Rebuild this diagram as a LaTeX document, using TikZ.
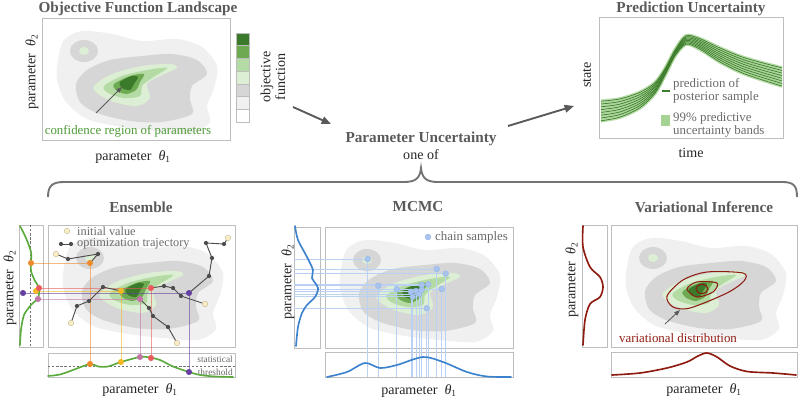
\documentclass[tikz,border=0pt]{standalone}
\usepackage{fontspec}
\setmainfont{Liberation Serif}
\usetikzlibrary{arrows.meta}

\definecolor{txtgray}{HTML}{5A5A5A}
\definecolor{legendgray}{HTML}{6A6A6A}
\definecolor{boxgray}{HTML}{BDBDBD}
\definecolor{lsA}{HTML}{F0F0F0}
\definecolor{lsB}{HTML}{D6D6D6}
\definecolor{lsC}{HTML}{DCEFD4}
\definecolor{lsD}{HTML}{B4DBA4}
\definecolor{lsE}{HTML}{6DAA52}
\definecolor{lsF}{HTML}{3B7A2A}
\definecolor{margreen}{HTML}{5BAA3C}
\definecolor{mcblue}{HTML}{3C82CC}
\definecolor{mcdot}{HTML}{A9C3EF}
\definecolor{mclinecol}{HTML}{BBD1F3}
\definecolor{vired}{HTML}{8E1B10}
\definecolor{confgreen}{HTML}{4E9A36}
\definecolor{cream}{HTML}{FAEDC4}
\definecolor{trajgray}{HTML}{4D4D4D}
\definecolor{cOrange}{HTML}{EC8A2C}
\definecolor{cYellow}{HTML}{F4B823}
\definecolor{cRed}{HTML}{E85A5C}
\definecolor{cPink}{HTML}{C274A6}
\definecolor{cPurple}{HTML}{6540A0}
\definecolor{bandgreen}{HTML}{A6D394}
\definecolor{linegreen}{HTML}{3E7E2E}

\newcommand\parlbl[1]{parameter\ \ {\itshape θ}\textsubscript{#1}}

% objective landscape, local frame of one 188x122 panel
\newcommand\objland{%
  \fill[lsA] plot[smooth cycle] coordinates {(16,42) (22,22) (40,13) (70,16) (100,23) (135,21) (160,29) (175,48) (172,70) (165,88) (168,104) (150,115) (115,113) (80,109) (45,101) (24,84) (15,62)};
  \fill[lsB] (42,33) ellipse[x radius=14, y radius=11];
  \fill[lsC] (42,33) ellipse[x radius=5, y radius=4];
  \fill[lsB] plot[smooth cycle] coordinates {(34,66) (45,52) (68,42) (100,38) (130,36) (155,42) (165,56) (150,68) (148,82) (150,96) (120,104) (88,103) (55,95) (38,84)};
  \fill[lsC] plot[smooth cycle] coordinates {(52,68) (70,56) (100,48) (128,46) (135,50) (118,58) (105,66) (108,80) (95,88) (72,84) (56,76)};
  \fill[lsD] plot[smooth cycle] coordinates {(62,68) (80,58) (105,52) (125,50) (110,60) (100,68) (98,78) (82,80) (66,75)};
  \fill[lsE] plot[smooth cycle] coordinates {(72,66) (88,58) (102,56) (98,64) (94,72) (84,76) (74,72)};
  \fill[lsF] plot[smooth cycle] coordinates {(78,64) (90,58) (96,59) (92,66) (88,72) (80,70)};
}

\tikzset{
  panelbox/.style={draw=boxgray, line width=0.6pt},
  ttl/.style={font=\fontsize{13}{15}\selectfont\bfseries, text=txtgray, inner sep=0pt},
  axlbl/.style={font=\fontsize{12}{14}\selectfont, text=black!85, inner sep=0pt},
  legtxt/.style={font=\fontsize{11}{11}\selectfont, text=legendgray, anchor=west, inner sep=0pt},
  bigarrow/.style={draw=black!65, line width=1.6pt, -{Triangle[length=8pt,width=6.5pt]}},
  thinarrow/.style={draw=black!65, line width=0.7pt, -{Triangle[length=5pt,width=3.6pt]}},
  bracestyle/.style={draw=black!55, line width=1.6pt},
  trajline/.style={draw=trajgray, line width=0.8pt},
  startdot/.style={fill=cream, draw=cream!75!black, line width=0.3pt},
  margcurve/.style={line width=1.4pt, line cap=round},
  projline/.style={line width=0.5pt, opacity=0.6},
  mcline/.style={draw=mclinecol, line width=0.45pt},
  thresh/.style={draw=black!55, line width=0.5pt, dash pattern=on 2pt off 1.5pt},
  predband/.style={draw=bandgreen, line width=3pt, opacity=0.8},
  predline/.style={draw=linegreen, line width=0.6pt},
}

\begin{document}
\begin{tikzpicture}[x=0.03cm, y=-0.03cm]
\useasboundingbox (0,0) rectangle (799,401);

% objective function landscape
\node[ttl] (objTitle) at (138,9) {Objective Function Landscape};
\begin{scope}[shift={(42,18)}]
  \objland
\end{scope}
\draw[panelbox] (42,18) rectangle (230,140);
\node[axlbl, rotate=90] (objY) at (32,72) {\parlbl{2}};
\node[axlbl] (objX) at (133,157) {\parlbl{1}};
\foreach \c [count=\i from 0] in {lsF,lsE,lsD,lsC,lsB,lsA,white}
  \filldraw[fill=\c, draw=boxgray, line width=0.4pt] (236,{33+12.7*\i}) rectangle (249,{45.7+12.7*\i});
\node[axlbl, rotate=90, align=center, font=\fontsize{12}{12.5}\selectfont] (objLbl) at (273,77) {objective\\function};
\node[font=\fontsize{11}{13}\selectfont, text=confgreen, inner sep=0pt] (confTxt) at (128,131) {confidence region of parameters};
\coordinate (confFoot) at (96,113);
\coordinate (confTip) at (122,87);
\draw[thinarrow] (confFoot) -- (confTip);

% prediction uncertainty
\node[ttl] (predTitle) at (691,9) {Prediction Uncertainty};
\foreach \d in {-3.5,-2.5,...,3.5}
  \draw[predband] plot[smooth] coordinates {(601,{111+2.8*\d}) (620,{108+2.6*\d}) (640,{100+2.2*\d}) (655,{88+1.5*\d}) (665,{72+0.9*\d}) (675,{53+0.8*\d}) (686,{40+1.2*\d}) (700,{44+1.5*\d}) (720,{55+2*\d}) (745,{66+2.3*\d}) (782,{77+2.6*\d})};
\foreach \d in {-3.5,-2.5,...,3.5}
  \draw[predline] plot[smooth] coordinates {(601,{111+2.8*\d}) (620,{108+2.6*\d}) (640,{100+2.2*\d}) (655,{88+1.5*\d}) (665,{72+0.9*\d}) (675,{53+0.8*\d}) (686,{40+1.2*\d}) (700,{44+1.5*\d}) (720,{55+2*\d}) (745,{66+2.3*\d}) (782,{77+2.6*\d})};
\draw[panelbox] (599,17) rectangle (783,138);
\draw[linegreen, line width=1.6pt] (662,91) -- (670,91);
\node[legtxt, align=left] (predLegA) at (673,91) {prediction of\\posterior sample};
\fill[bandgreen] (661,115) rectangle (670,126);
\node[legtxt, align=left] (predLegB) at (673,124.5) {99\% predictive\\uncertainty bands};
\node[axlbl, rotate=90] (predY) at (587,75) {state};
\node[axlbl] (predX) at (691,153) {time};

% parameter uncertainty
\node[ttl] (puTitle) at (421,139) {Parameter Uncertainty};
\node[axlbl] (puSub) at (421,155) {one of};
\coordinate (arrAStart) at (293,107);
\coordinate (arrAEnd) at (331,124);
\coordinate (arrBStart) at (508,126);
\coordinate (arrBEnd) at (574,106);
\draw[bigarrow] (arrAStart) -- (arrAEnd);
\draw[bigarrow] (arrBStart) -- (arrBEnd);
\draw[bracestyle] (48,197) .. controls (48,186) and (52,182) .. (64,182) -- (404,182)
  .. controls (416,182) and (420,178) .. (421,168) .. controls (422,178) and (426,182) .. (438,182)
  -- (782,182) .. controls (794,182) and (797,186) .. (797,197);

% ensemble
\node[ttl] (ensTitle) at (141,207) {Ensemble};
\begin{scope}[shift={(48,225)}]
  \objland
\end{scope}
\draw[panelbox] (48,225) rectangle (235,347);
\draw[panelbox] (19,225) rectangle (43,347);
\draw[panelbox] (48,353) rectangle (235,377);
\draw[thresh] (30,225) -- (30,347);
\draw[thresh] (48,366) -- (235,366);
\node[font=\fontsize{8}{9}\selectfont, text=legendgray, anchor=east, inner sep=0pt] (thrA) at (233,359) {statistical};
\node[font=\fontsize{8}{9}\selectfont, text=legendgray, anchor=east, inner sep=0pt] (thrB) at (233,372) {threshold};
\draw[projline, cOrange] (31,263) -- (90,263) -- (90,364);
\draw[projline, cYellow] (36,291) -- (121,291) -- (121,362);
\draw[projline, cRed] (39,288) -- (151,288) -- (151,358);
\draw[projline, cPink] (38,299) -- (140,299) -- (140,357);
\draw[projline, cPurple] (23,293) -- (189,293) -- (189,372);
\draw[margcurve, margreen] plot[smooth] coordinates {(20,226) (26,238) (31,252) (31,263) (31,271) (35,281) (39,288) (38,298) (31,305) (24,315) (21,330) (20,345)};
\draw[margcurve, margreen] plot[smooth] coordinates {(48,376) (60,374.5) (73,370) (90,364) (98,366.5) (108,366.5) (121,362) (140,357) (150,357.5) (160,360) (173,366.5) (189,372) (200,375) (215,376.5) (233,377)};
% trajectories
\draw[trajline] (56,254) -- (68,259) -- (98,254) -- (90,263);
\draw[trajline] (71,323) -- (77,306) -- (89,301) -- (103,287) -- (121,291);
\draw[trajline] (205,304) -- (181,296) -- (173,288) -- (164,286) -- (151,288);
\draw[trajline] (177,343) -- (168,327) -- (153,316) -- (149,308) -- (140,299);
\draw[trajline] (228,238) -- (224,244) -- (206,243) -- (212,258) -- (209,276) -- (189,293);
\foreach \p in {(68,259),(98,254),(77,306),(89,301),(103,287),(181,296),(173,288),(164,286),(168,327),(153,316),(149,308),(224,244),(206,243),(212,258),(209,276)}
  \fill[trajgray] \p circle[radius=1.8pt];
\foreach \p in {(56,254),(71,323),(205,304),(177,343),(228,238)}
  \filldraw[startdot] \p circle[radius=2.4pt];
\foreach \p/\c in {(90,263)/cOrange,(121,291)/cYellow,(151,288)/cRed,(140,299)/cPink,(189,293)/cPurple,
    (31,263)/cOrange,(36,291)/cYellow,(39,288)/cRed,(38,299)/cPink,(23,293)/cPurple,
    (90,364)/cOrange,(121,362)/cYellow,(140,357)/cPink,(151,358)/cRed,(189,372)/cPurple}
  \fill[\c] \p circle[radius=2.6pt];
\filldraw[startdot] (67,231) circle[radius=2.4pt];
\node[legtxt, font=\fontsize{10.5}{11}\selectfont] (ensLegA) at (77,231) {initial value};
\draw[trajline] (61,244) -- (71,244);
\fill[trajgray] (61,244) circle[radius=1.8pt] (71,244) circle[radius=1.8pt];
\node[legtxt, font=\fontsize{10.5}{11}\selectfont] (ensLegB) at (77,244) {optimization trajectory};
\node[axlbl, rotate=90] (ensY) at (10,288) {\parlbl{2}};
\node[axlbl] (ensX) at (140,390) {\parlbl{1}};

% mcmc
\node[ttl] (mcTitle) at (418,207) {MCMC};
\begin{scope}[shift={(325,227)}]
  \objland
\end{scope}
\draw[panelbox] (325,227) rectangle (513,348);
\draw[panelbox] (294,227) rectangle (320,348);
\draw[panelbox] (325,352) rectangle (513,377);
\foreach \sx/\sy in {367.7/259, 436.7/269, 445.7/273.7, 378.3/285.7, 396.7/289, 411/291.7, 416/291, 419.3/294, 421.7/289.7, 421.7/285, 428.3/284.3, 412.7/296.7, 426.7/308.3, 441.7/289}
  \draw[mcline] (294,\sy) -- (\sx,\sy) -- (\sx,377);
\foreach \sx/\sy in {367.7/259, 436.7/269, 445.7/273.7, 378.3/285.7, 396.7/289, 411/291.7, 416/291, 419.3/294, 421.7/289.7, 421.7/285, 428.3/284.3, 412.7/296.7, 426.7/308.3, 441.7/289}
  \filldraw[fill=mcdot, draw=mcdot!80!mcblue, line width=0.3pt] (\sx,\sy) circle[radius=2.5pt];
\draw[margcurve, mcblue] plot[smooth] coordinates {(295,226) (298,240) (307,257) (313,270) (312,278) (318,288) (315,297) (307,305) (302,313) (298,327) (296,346)};
\draw[margcurve, mcblue] plot[smooth] coordinates {(327,377) (347,372) (365,363) (380,368) (397,365) (423,357) (443,362) (467,372) (487,376.5) (511,377)};
\filldraw[fill=mcdot, draw=mcdot!80!mcblue, line width=0.3pt] (428,237) circle[radius=2.5pt];
\node[legtxt] (mcLeg) at (435,237) {chain samples};
\node[axlbl, rotate=90] (mcY) at (288,282) {\parlbl{2}};
\node[axlbl] (mcX) at (419,391) {\parlbl{1}};

% variational inference
\node[ttl] (viTitle) at (704,207) {Variational Inference};
\begin{scope}[shift={(611,225)}]
  \objland
\end{scope}
\draw[panelbox] (611,225) rectangle (797,347);
\draw[panelbox] (582,225) rectangle (607,347);
\draw[panelbox] (611,352) rectangle (797,377);
\draw[vired, line width=0.9pt] plot[smooth cycle] coordinates {(667,296) (683,280) (707,272) (743,273) (744,281) (727,293) (690,308) (673,307)};
\draw[vired, line width=0.9pt] plot[smooth cycle] coordinates {(687,289) (697,282) (717,283) (713,292) (697,297)};
\draw[vired, line width=0.9pt] (702,289) ellipse[x radius=6, y radius=4.5];
\draw[margcurve, vired] plot[smooth] coordinates {(583,226) (583,247) (590,267) (600,277) (603,287) (600,297) (590,304) (585,320) (583,345)};
\draw[margcurve, vired] plot[smooth] coordinates {(612,375) (640,373) (667,368) (687,362) (698,356) (707,353) (717,357) (730,366) (747,371.5) (773,373) (796,375)};
\node[font=\fontsize{11}{13}\selectfont, text=vired, inner sep=0pt] (viTxt) at (678,338) {variational distribution};
\coordinate (viFoot) at (665,324);
\coordinate (viTip) at (680,310);
\draw[thinarrow] (viFoot) -- (viTip);
\node[axlbl, rotate=90] (viY) at (572,280) {\parlbl{2}};
\node[axlbl] (viX) at (704,390) {\parlbl{1}};
\end{tikzpicture}
\end{document}
